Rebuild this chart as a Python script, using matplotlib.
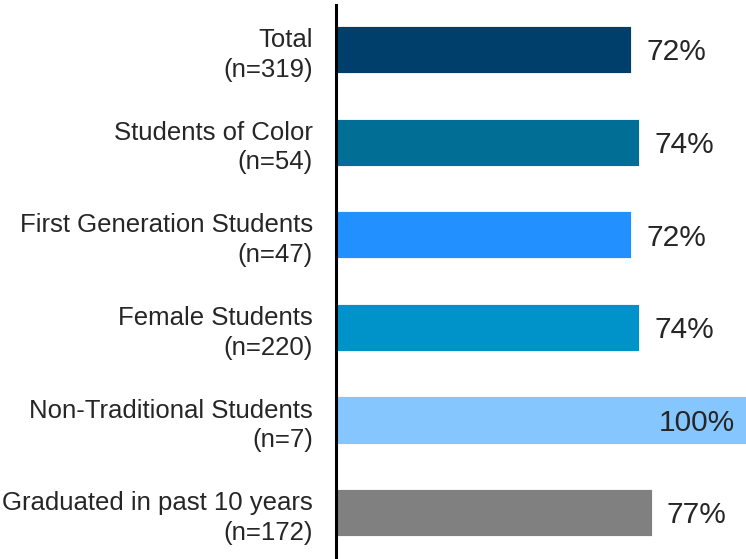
import matplotlib.pyplot as plt

categories = [
    "Total\n(n=319)",
    "Students of Color\n(n=54)",
    "First Generation Students\n(n=47)",
    "Female Students\n(n=220)",
    "Non-Traditional Students\n(n=7)",
    "Graduated in past 10 years\n(n=172)",
]
values = [72, 74, 72, 74, 100, 77]
colors = ["#003F6B", "#006E95", "#2290FF", "#0093CA", "#85C6FF", "#808080"]

plt.rcParams["font.family"] = ["Liberation Sans", "DejaVu Sans"]
text_color = "#262626"

fig = plt.figure(figsize=(7.46, 5.59), dpi=100)
ax = fig.add_axes([0.4504, 0.0, 0.5496, 0.991])

pos = list(range(len(values)))
ax.barh(pos, values, height=0.51, color=colors, edgecolor="white", linewidth=0.6)

ax.set_xlim(0, 100)
ax.set_ylim(5.5, -0.48)

for y, v in zip(pos, values):
    if v >= 100:
        ax.annotate(f"{v}%", (v, y), xytext=(-8, -2), textcoords="offset points",
                    ha="right", va="center", fontsize=21.5, color=text_color)
    else:
        ax.annotate(f"{v}%", (v, y), xytext=(11, -2), textcoords="offset points",
                    ha="left", va="center", fontsize=21.5, color=text_color)

ax.set_yticks(pos)
ax.set_yticklabels(categories, fontsize=18.5, color=text_color, linespacing=1.3)
ax.tick_params(axis="y", length=0, pad=16.5)
ax.set_xticks([])

for s in ["top", "right", "bottom"]:
    ax.spines[s].set_visible(False)
ax.spines["left"].set_linewidth(2.2)
ax.spines["left"].set_color("black")

fig.savefig("out.png", dpi=100)
